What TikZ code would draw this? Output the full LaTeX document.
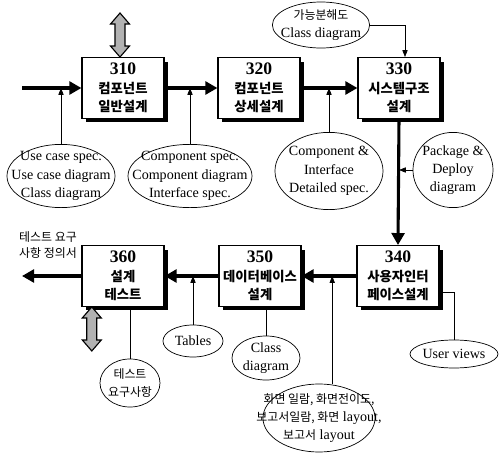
\documentclass[tikz,border=0pt]{standalone}
\usepackage{fontspec}
\setmainfont{Liberation Serif}
\newfontfamily\kr{Noto Sans CJK KR}
\usetikzlibrary{shapes, arrows.meta, positioning, calc, shadows}
\newcommand\boxnum[1]{{\rmfamily\bfseries\fontsize{12.5}{13}\selectfont #1}}

\begin{document}
\begin{tikzpicture}[
        x=0.025cm, y=-0.025cm,
        proc/.style={rectangle, draw=black, thick, fill=white, minimum width=2.05cm, minimum height=1.52cm, align=center, inner sep=1pt, font=\kr\bfseries\fontsize{9.5}{13}\selectfont, drop shadow={shadow xshift=0.1cm, shadow yshift=-0.1cm, fill=black, opacity=1}},
        doc/.style={ellipse, draw=black, line width=0.5pt, align=center, inner xsep=-1cm, inner ysep=-1cm, font=\fontsize{10}{13}\selectfont},
        note/.style={align=left, inner sep=0pt, font=\kr\fontsize{8.5}{12}\selectfont},
        flow/.style={-{Triangle[length=0.3cm, width=0.32cm]}, line width=2.2pt},
        feed/.style={-{Triangle[length=0.17cm, width=0.13cm]}, line width=0.5pt},
        tie/.style={line width=0.5pt},
        updown/.style={draw=black, fill=gray!60, line width=0.8pt}
    ]
        \useasboundingbox (0,0) rectangle (502,454);
        \node[proc] (b310) at (123,88) {\boxnum{310}\\컴포넌트\\일반설계};
        \node[proc] (b320) at (259,88) {\boxnum{320}\\컴포넌트\\상세설계};
        \node[proc] (b330) at (399,88) {\boxnum{330}\\시스템구조\\설계};
        \node[proc] (b340) at (398,276) {\boxnum{340}\\사용자인터\\페이스설계};
        \node[proc] (b350) at (260,276) {\boxnum{350}\\데이터베이스\\설계};
        \node[proc] (b360) at (123,276) {\boxnum{360}\\설계\\테스트};
        \coordinate (in) at (22,88);
        \coordinate (out) at (22,276);
        \node[doc, minimum width=2.7cm, minimum height=1.58cm] (uc) at (61,176) {Use case spec.\\Use case diagram\\Class diagram};
        \node[doc, minimum width=3.1cm, minimum height=1.58cm] (cs) at (190,176) {Component spec.\\Component diagram\\Interface spec.};
        \node[doc, minimum width=2.7cm, minimum height=1.93cm] (cis) at (329,171) {Component \&\\Interface\\Detailed spec.};
        \node[doc, minimum width=2.0cm, minimum height=1.88cm] (pd) at (453,170) {Package \&\\Deploy\\diagram};
        \node[doc, minimum width=2.43cm, minimum height=1.15cm] (fd) at (321,25) {{\kr\fontsize{8.5}{13}\selectfont 가능분해도}\\Class diagram};
        \node[doc, minimum width=1.5cm, minimum height=0.8cm] (tb) at (193,341) {Tables};
        \node[doc, minimum width=1.5cm, minimum height=1.2cm, font=\kr\fontsize{8.5}{13}\selectfont] (tr) at (130,383) {테스트\\요구사항};
        \node[doc, minimum width=1.7cm, minimum height=1.1cm] (cd) at (266,358) {Class\\diagram};
        \node[doc, minimum width=2.8cm, minimum height=1.7cm] (sc) at (319,418) {{\kr\fontsize{8.5}{13}\selectfont 화면 일람, 화면전이도,}\\{\kr\fontsize{8.5}{13}\selectfont 보고서일람, 화면} layout,\\{\kr\fontsize{8.5}{13}\selectfont 보고서} layout};
        \node[doc, minimum width=2.2cm, minimum height=0.7cm] (uv) at (454,354) {User views};
        \node[note] (spec) at (48,245) {테스트 요구\\사항 정의서};
        \draw[flow] (in) -- (b310.west);
        \draw[flow] (b310.east) -- (b320.west);
        \draw[flow] (b320.east) -- (b330.west);
        \draw[flow] (b330.south) -- (b340.north);
        \draw[flow] (b340.west) -- (b350.east);
        \draw[flow] (b350.west) -- (b360.east);
        \draw[flow] (b360.west) -- (out);
        \draw[feed] (uc.north) -- (uc.north |- b310.west);
        \draw[feed] (cs.north) -- (cs.north |- b310.east);
        \draw[feed] (cis.north) -- (cis.north |- b320.east);
        \draw[feed] (pd.west) -- (pd.west -| b330.south);
        \draw[feed] (fd.east) -| ([xshift=0.15cm]b330.north);
        \draw[feed] (tb.north) -- (tb.north |- b350.west);
        \draw[feed] ([xshift=0.33cm]sc.north) -- ([xshift=0.33cm]sc.north |- b340.west);
        \draw[tie] (tr.north) -- (tr.north |- b360.south);
        \draw[tie] (cd.north) -- (cd.north |- b350.south);
        \draw[tie] ([yshift=-0.4cm]b340.east) -| (uv.north);
        \draw[updown] ([xshift=-0.075cm]b310.north) -- ++(-9.5,-11) -- ++(4.5,0) -- ++(0,-22) -- ++(-4.5,0) -- ++(9.5,-11) -- ++(9.5,11) -- ++(-4.5,0) -- ++(0,22) -- ++(4.5,0) -- cycle;
        \draw[updown] ([xshift=-0.78cm]b360.south) -- ++(-9.5,11) -- ++(4.5,0) -- ++(0,22) -- ++(-4.5,0) -- ++(9.5,11) -- ++(9.5,-11) -- ++(-4.5,0) -- ++(0,-22) -- ++(4.5,0) -- cycle;
    \end{tikzpicture}
\end{document}
